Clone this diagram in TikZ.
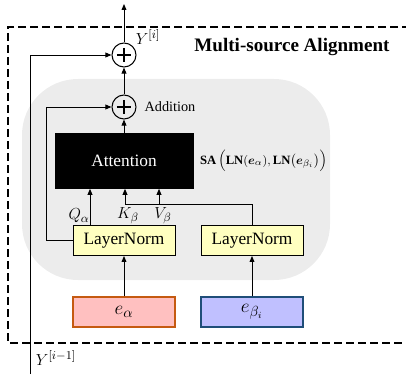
\documentclass[tikz,border=0pt]{standalone}
\usepackage{amsmath,bm}
\usepackage{fontspec}
\setmainfont{Liberation Serif}
\usetikzlibrary{arrows.meta,calc}
\definecolor{regiongray}{RGB}{236,236,236}
\definecolor{lnfill}{RGB}{255,255,192}
\definecolor{eafill}{RGB}{255,192,192}
\definecolor{eadraw}{RGB}{197,90,17}
\definecolor{ebfill}{RGB}{192,192,255}
\definecolor{ebdraw}{RGB}{31,78,121}
\tikzset{
  arr/.style={line width=0.7pt,-{Triangle[length=4.5pt,width=3.6pt]}},
  lnbox/.style={draw,line width=0.7pt,fill=lnfill,minimum width=76.5pt,minimum height=22.5pt,inner sep=0pt,font=\fontsize{13}{15}\selectfont},
  ebox/.style={draw,line width=0.8pt,minimum width=76.5pt,minimum height=22.5pt,inner sep=0pt,font=\fontsize{15}{17}\selectfont},
  plusnode/.style={circle,draw,line width=0.8pt,minimum size=18pt,inner sep=0pt,
    path picture={
      \draw[line width=0.9pt] ($(path picture bounding box.north)!0.2!(path picture bounding box.south)$) -- ($(path picture bounding box.north)!0.8!(path picture bounding box.south)$);
      \draw[line width=0.9pt] ($(path picture bounding box.west)!0.2!(path picture bounding box.east)$) -- ($(path picture bounding box.west)!0.8!(path picture bounding box.east)$);
    }},
  lbl/.style={inner sep=0pt},
  mlbl/.style={inner sep=0pt,font=\fontsize{13}{15}\selectfont}
}
\begin{document}
\begin{tikzpicture}[x=0.75pt,y=-0.75pt]
\useasboundingbox (0,0) rectangle (406,374);
% gray region
\fill[regiongray,rounded corners=42pt] (22,79) rectangle (330,280);
% dashed frame
\draw[line width=0.8pt,dash pattern=on 6pt off 3pt] (410,27) -- (8,27) -- (8,343) -- (410,343);
% nodes
\node[plusnode] (plusTop) at (124,55) {};
\node[plusnode] (plusAdd) at (124,107) {};
\node[draw,fill=black,minimum width=103.5pt,minimum height=41.25pt,inner sep=0pt,text=white,font=\fontsize{13}{15}\selectfont] (att) at (124,161) {Attention};
\node[lnbox] (lnA) at (124,240.5) {LayerNorm};
\node[lnbox] (lnB) at (252,240.5) {LayerNorm};
\node[ebox,fill=eafill,draw=eadraw] (ea) at (124,312) {$e_{\alpha}$};
\node[ebox,fill=ebfill,draw=ebdraw] (eb) at (252,312) {$e_{\beta_i}$};
% labels
\node[lbl,font=\fontsize{14.3}{16}\selectfont\bfseries] (title) at (292,47) {Multi-source Alignment};
\node[lbl,font=\fontsize{10.7}{12}\selectfont] (addlbl) at (170,107) {Addition};
\node[mlbl] (yi) at (148,37) {$Y^{[i]}$};
\node[mlbl] (yim) at (56,358) {$Y^{[i-1]}$};
\node[mlbl] (qlbl) at (79,216) {$Q_{\alpha}$};
\node[mlbl] (klbl) at (128,216) {$K_{\beta}$};
\node[mlbl] (vlbl) at (163,216) {$V_{\beta}$};
\node[lbl,font=\fontsize{9.5}{11}\selectfont] (salbl) at (263.5,161) {\textbf{SA}\,$\Bigl(\mathbf{LN}(\bm{e}_{\alpha}),\mathbf{LN}\bigl(\bm{e}_{\beta_i}\bigr)\Bigr)$};
% coordinates
\coordinate (topend) at (124,4);
\coordinate (ystart) at (30,374);
\coordinate (qx) at (90,0);
\coordinate (kx) at (125,204);
\coordinate (vx) at (159,204);
\coordinate (skip) at (46,107);
% connectors
\draw[arr] (ea) -- (lnA);
\draw[arr] (eb) -- (lnB);
\draw[arr] (lnA.north -| qx) -- (att.south -| qx);
\draw[arr] (lnB.north) |- (kx) -- (att.south -| kx);
\draw[arr] (vx) -- (att.south -| vx);
\draw[arr] (att) -- (plusAdd);
\draw[arr] (lnA.west) -| (skip) -- (plusAdd.west);
\draw[arr] (plusAdd) -- (plusTop);
\draw[arr] (ystart) |- (plusTop.west);
\draw[arr] (plusTop) -- (topend);
\end{tikzpicture}
\end{document}
